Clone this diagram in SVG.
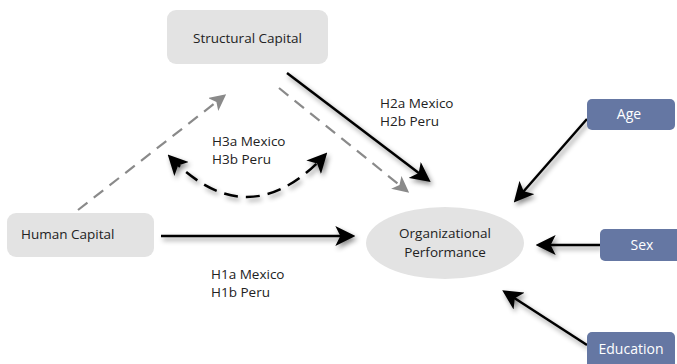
<svg xmlns="http://www.w3.org/2000/svg" width="677" height="364" viewBox="0 0 677 364">
<style>
.node{fill:#e3e3e3}
.ctl{fill:#6577a3}
.t{font-family:"Open Sans","Liberation Sans",sans-serif;font-size:13.5px;fill:#222}
.tw{font-family:"Open Sans","Liberation Sans",sans-serif;font-size:14px;fill:#fff}
.blk{stroke:#000;stroke-width:2.5;fill:none;filter:url(#sh)}
.gry{stroke:#8a8a8a;stroke-width:2.2;fill:none;stroke-dasharray:12 8}
</style>
<defs>
<filter id="sh" filterUnits="userSpaceOnUse" x="0" y="0" width="677" height="364">
<feDropShadow dx="2" dy="3" stdDeviation="2.5" flood-color="#000" flood-opacity="0.45"/>
</filter>
<marker id="ab" viewBox="0 0 12 12" refX="10" refY="6" markerWidth="8" markerHeight="8" orient="auto-start-reverse" markerUnits="strokeWidth">
<path d="M0,0 L12,6 L0,12 L3,6 z" fill="#000"/>
</marker>
<marker id="ag" viewBox="0 0 12 12" refX="10" refY="6" markerWidth="7.5" markerHeight="7.5" orient="auto" markerUnits="strokeWidth">
<path d="M0,0 L12,6 L0,12 L3,6 z" fill="#8a8a8a"/>
</marker>
</defs>
<g id="connectors">
<line class="gry" x1="78" y1="210" x2="224" y2="96" marker-end="url(#ag)"/>
<line class="gry" x1="279" y1="88" x2="407" y2="191" marker-end="url(#ag)"/>
<line class="blk" x1="287" y1="73" x2="428" y2="180" marker-end="url(#ab)"/>
<line class="blk" x1="161" y1="236" x2="352" y2="236" marker-end="url(#ab)"/>
<path class="blk" d="M170,157 Q248,238 325,155" stroke-dasharray="14 8" marker-start="url(#ab)" marker-end="url(#ab)"/>
<line class="blk" x1="587" y1="119" x2="516" y2="200" marker-end="url(#ab)"/>
<line class="blk" x1="600" y1="245" x2="539" y2="245" marker-end="url(#ab)"/>
<line class="blk" x1="587" y1="345" x2="505" y2="292" marker-end="url(#ab)"/>
</g>
<g id="labels">
<text class="t" x="380" y="108">H2a Mexico</text>
<text class="t" x="380" y="126">H2b Peru</text>
<text class="t" x="212" y="146">H3a Mexico</text>
<text class="t" x="212" y="164">H3b Peru</text>
<text class="t" x="211" y="279">H1a Mexico</text>
<text class="t" x="211" y="297">H1b Peru</text>
</g>
<g id="structural">
<rect class="node" x="167" y="10" width="161" height="54" rx="9"/>
<text class="t" x="247.5" y="43" text-anchor="middle">Structural Capital</text>
</g>
<g id="human">
<rect class="node" x="7" y="213" width="147" height="44" rx="9"/>
<text class="t" x="21" y="239">Human Capital</text>
</g>
<g id="performance">
<ellipse class="node" cx="445" cy="243" rx="79" ry="36"/>
<text class="t" x="445" y="238" text-anchor="middle">Organizational</text>
<text class="t" x="445" y="257" text-anchor="middle">Performance</text>
</g>
<g id="age">
<rect class="ctl" x="587" y="99" width="88" height="31" rx="5"/>
<text class="tw" x="629" y="119" text-anchor="middle">Age</text>
</g>
<g id="sex">
<rect class="ctl" x="600" y="229" width="82" height="32" rx="5"/>
<text class="tw" x="642" y="250" text-anchor="middle">Sex</text>
</g>
<g id="education">
<rect class="ctl" x="587" y="332" width="88" height="38" rx="5"/>
<text class="tw" x="631" y="354" text-anchor="middle">Education</text>
</g>
</svg>
